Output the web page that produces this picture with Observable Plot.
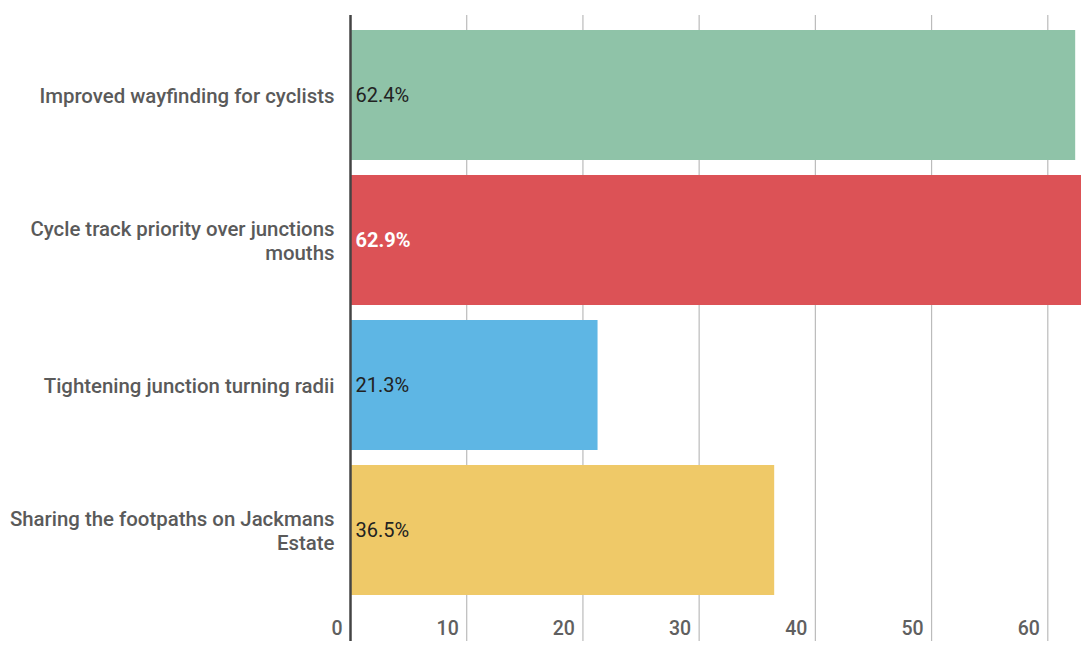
<!DOCTYPE html>
<html>
<head>
<meta charset="utf-8">
<script src="https://cdn.jsdelivr.net/npm/d3@7"></script>
<script src="https://cdn.jsdelivr.net/npm/@observablehq/plot@0.6"></script>
<style>
  html, body { margin: 0; padding: 0; background: #fff; }
  #chart { width: 1091px; height: 650px; }
  svg { font-family: Roboto, "Noto Sans", sans-serif; }
</style>
</head>
<body>
<div id="chart"></div>
<script>
const categories = [
  "Improved wayfinding for cyclists",
  "Cycle track priority over junctions mouths",
  "Tightening junction turning radii",
  "Sharing the footpaths on Jackmans Estate"
];
const wrappedLabels = [
  "Improved wayfinding for cyclists",
  "Cycle track priority over junctions\nmouths",
  "Tightening junction turning radii",
  "Sharing the footpaths on Jackmans\nEstate"
];
const values = [62.4, 62.9, 21.3, 36.5];
const colors = ["#8fc3a8", "#dc5256", "#5eb6e4", "#efc968"];
const labelColors = ["#222", "#fff", "#222", "#222"];
const boldLabel = [false, true, false, false];
const xTicks = [0, 10, 20, 30, 40, 50, 60];

const data = categories.map((c, i) => ({
  category: c, value: values[i], color: colors[i],
  labelColor: labelColors[i], bold: boldLabel[i], label: wrappedLabels[i]
}));
const labelOf = new Map(data.map(d => [d.category, d.label]));
const fmt = d => d.value.toFixed(1) + "%";

const chart = Plot.plot({
  width: 1091,
  height: 650,
  marginLeft: 350,
  marginRight: 10,
  marginTop: 15,
  marginBottom: 9,
  style: { fontFamily: "Roboto, 'Noto Sans', sans-serif", fontSize: "20px", color: "#555", background: "#fff" },
  x: { domain: [0, 62.9], axis: null },
  y: { domain: categories, range: [15, 610], padding: 0.1034, axis: null },
  marks: [
    Plot.gridX(xTicks.filter(t => t > 0), { stroke: "#bbb", strokeOpacity: 1, strokeWidth: 1.2 }),
    Plot.barX(data, { x: "value", y: "category", fill: "color" }),
    Plot.ruleX([0], { stroke: "#444", strokeWidth: 2.5 }),
    Plot.text(data.filter(d => !d.bold), {
      x: 0, y: "category", text: fmt,
      textAnchor: "start", dx: 5, fill: "labelColor", fontSize: 20
    }),
    Plot.text(data.filter(d => d.bold), {
      x: 0, y: "category", text: fmt,
      textAnchor: "start", dx: 5, fill: "labelColor", fontWeight: "bold", fontSize: 20
    }),
    Plot.axisY({ label: null, tickSize: 0, tickPadding: 16, tickFormat: d => labelOf.get(d), fontSize: 20.4, fontWeight: 500, fill: "#5a5a5a", lineHeight: 1.18 }),
    Plot.text(xTicks, {
      x: d => d, frameAnchor: "bottom", text: d => String(d),
      textAnchor: "end", lineAnchor: "bottom", dx: -8, dy: -7,
      fill: "#606060", fontSize: 19.5, fontWeight: 500
    })
  ]
});
document.getElementById("chart").appendChild(chart);
</script>
</body>
</html>
